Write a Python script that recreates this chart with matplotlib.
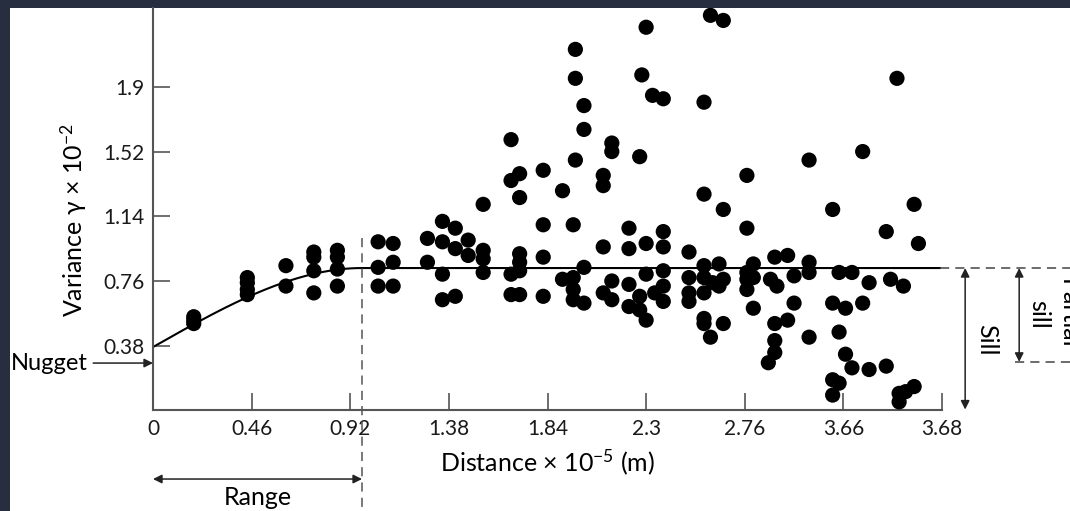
import numpy as np
import matplotlib
matplotlib.use("Agg")
import matplotlib.pyplot as plt
from matplotlib.patches import Rectangle

plt.rcParams["font.family"] = ["Lato", "DejaVu Sans"]
plt.rcParams["mathtext.fontset"] = "custom"
plt.rcParams["mathtext.rm"] = "Lato"
plt.rcParams["mathtext.it"] = "Lato:italic"
plt.rcParams["mathtext.bf"] = "Lato:bold"

distance = [
    0.19, 0.19, 0.19, 0.44, 0.44, 0.44, 0.44, 0.62, 0.62, 0.75,
    0.75, 0.75, 0.75, 0.86, 0.86, 0.86, 0.86, 1.05, 1.05, 1.05,
    1.12, 1.12, 1.12, 1.28, 1.28, 1.35, 1.35, 1.35, 1.35, 1.41,
    1.41, 1.41, 1.47, 1.47, 1.54, 1.54, 1.54, 1.54, 1.67, 1.67,
    1.67, 1.67, 1.71, 1.71, 1.71, 1.71, 1.71, 1.71, 1.82, 1.82,
    1.82, 1.82, 1.91, 1.91, 1.97, 1.97, 1.97, 1.96, 1.96, 1.96,
    1.96, 2.01, 2.01, 2.01, 2.01, 2.10, 2.10, 2.10, 2.10, 2.14,
    2.14, 2.14, 2.14, 2.22, 2.22, 2.22, 2.22, 2.27, 2.27, 2.27,
    2.28, 2.30, 2.33, 2.38, 2.30, 2.30, 2.30, 2.34, 2.38, 2.38,
    2.38, 2.38, 2.38, 2.60, 2.66, 2.57, 2.57, 2.66, 2.77, 2.77,
    3.06, 3.17, 3.31, 3.47, 3.55, 3.42, 3.57, 2.50, 2.57, 2.64,
    2.80, 2.90, 2.96, 3.06, 2.50, 2.50, 2.50, 2.57, 2.57, 2.61,
    2.66, 2.64, 2.77, 2.77, 2.77, 2.80, 2.88, 2.91, 2.99, 3.06,
    3.20, 3.26, 3.34, 3.44, 3.50, 2.80, 2.99, 3.17, 3.23, 3.31,
    2.57, 2.57, 2.60, 2.66, 2.90, 2.96, 3.06, 3.20, 2.90, 2.90,
    2.87, 3.23, 3.26, 3.34, 3.42, 3.17, 3.20, 3.17, 3.48, 3.48,
    3.51, 3.55,
]
variance = [
    0.55, 0.53, 0.51, 0.78, 0.75, 0.71, 0.68, 0.85, 0.73, 0.93,
    0.90, 0.82, 0.69, 0.94, 0.90, 0.83, 0.73, 0.99, 0.84, 0.73,
    0.98, 0.87, 0.73, 1.01, 0.87, 1.11, 0.99, 0.80, 0.65, 1.07,
    0.95, 0.67, 1.00, 0.91, 1.21, 0.94, 0.89, 0.81, 1.59, 1.35,
    0.80, 0.68, 1.39, 1.25, 0.92, 0.87, 0.82, 0.68, 1.41, 1.09,
    0.90, 0.67, 1.29, 0.77, 2.12, 1.95, 1.47, 1.09, 0.78, 0.71,
    0.65, 1.79, 1.65, 0.84, 0.63, 1.38, 1.32, 0.96, 0.69, 1.57,
    1.52, 0.76, 0.65, 1.07, 0.95, 0.74, 0.61, 1.49, 0.67, 0.59,
    1.97, 2.25, 1.85, 1.83, 0.98, 0.80, 0.53, 0.69, 1.05, 0.96,
    0.82, 0.73, 0.64, 2.32, 2.29, 1.81, 1.27, 1.18, 1.38, 1.07,
    1.47, 1.18, 1.52, 1.95, 1.21, 1.05, 0.98, 0.93, 0.85, 0.86,
    0.86, 0.90, 0.91, 0.87, 0.78, 0.69, 0.64, 0.78, 0.69, 0.75,
    0.77, 0.73, 0.81, 0.77, 0.71, 0.78, 0.77, 0.73, 0.79, 0.81,
    0.81, 0.81, 0.75, 0.77, 0.73, 0.60, 0.63, 0.63, 0.60, 0.63,
    0.54, 0.51, 0.43, 0.51, 0.51, 0.53, 0.43, 0.46, 0.41, 0.34,
    0.28, 0.33, 0.25, 0.24, 0.26, 0.18, 0.16, 0.09, 0.10, 0.05,
    0.11, 0.14,
]

# tick labels as printed on the original figure
x_ticks = [0, 0.46, 0.92, 1.38, 1.84, 2.3, 2.76, 3.22, 3.68]
x_tick_labels = ["0", "0.46", "0.92", "1.38", "1.84", "2.3", "2.76", "3.66", "3.68"]
y_ticks = [0.38, 0.76, 1.14, 1.52, 1.9]
y_tick_labels = ["0.38", "0.76", "1.14", "1.52", "1.9"]

# fitted spherical model
model_start = 0.372
sill = 0.836
model_range = 0.975
nugget_level = 0.285

W, H = 1070, 511
fig = plt.figure(figsize=(W / 100, H / 100), dpi=100)
fig.patch.set_facecolor("#262e40")
# white page on the dark slide background
fig.add_artist(Rectangle((10 / W, 0), 1 - 10 / W, 503 / H, transform=fig.transFigure,
                         facecolor="white", edgecolor="none", zorder=0))

ax = fig.add_axes([153 / W, (H - 410.4) / H, (942 - 153) / W, (410.4 - 8) / H])
ax.patch.set_visible(False)
ax.set_xlim(0, 3.68)
ax.set_ylim(0, 2.363)

for side in ["top", "right"]:
    ax.spines[side].set_visible(False)
for side in ["left", "bottom"]:
    ax.spines[side].set_color("#555555")
    ax.spines[side].set_linewidth(1.5)

ax.set_xticks(x_ticks)
ax.set_xticklabels(x_tick_labels)
ax.set_yticks(y_ticks)
ax.set_yticklabels(y_tick_labels)
ax.tick_params(direction="in", length=12, width=1.2, color="#555555",
               labelsize=15, labelcolor="#1a1a1a", pad=6)

# points
ax.scatter(distance, variance, s=120, c="black", edgecolors="none", zorder=3)

# model curve
h = np.linspace(0, 3.67, 400)
r = np.clip(h / model_range, 0, 1)
gamma = model_start + (sill - model_start) * (1.5 * r - 0.5 * r ** 3)
ax.plot(h, gamma, color="black", lw=1.5, zorder=2)

dash = (0, (6, 4))
ax.plot([3.67, 4.3], [sill, sill], color="#444444", lw=1.1, ls=dash, clip_on=False)
ax.plot([4.02, 4.3], [nugget_level, nugget_level], color="#444444", lw=1.1, ls=dash, clip_on=False)
ax.plot([model_range, model_range], [1.01, -0.62], color="#555555", lw=1.1, ls=dash, clip_on=False)

arrow = dict(arrowstyle="<|-|>", color="#222222", lw=1.1, mutation_scale=13, shrinkA=0, shrinkB=0)
one_arrow = dict(arrowstyle="-|>", color="#222222", lw=1.1, mutation_scale=13, shrinkA=2, shrinkB=0)

# sill and partial sill
ax.annotate("", xy=(3.788, sill), xytext=(3.788, 0.005), arrowprops=arrow, annotation_clip=False)
ax.annotate("", xy=(4.04, sill), xytext=(4.04, nugget_level), arrowprops=arrow, annotation_clip=False)
ax.text(3.89, 0.413, "Sill", rotation=-90, ha="center", va="center", fontsize=18)
ax.text(4.13, 0.566, "sill", rotation=-90, ha="center", va="center", fontsize=18)
ax.text(4.27, 0.566, "Partial", rotation=-90, ha="center", va="center", fontsize=18)

# range
ax.annotate("", xy=(0, -0.403), xytext=(model_range, -0.403), arrowprops=arrow, annotation_clip=False)
ax.text(model_range / 2, -0.556, "Range", ha="center", va="baseline", fontsize=18)

# nugget
ax.annotate("Nugget", xy=(0, nugget_level - 0.007), xytext=(-0.305, nugget_level - 0.007),
            ha="right", va="center", fontsize=17, arrowprops=one_arrow, annotation_clip=False)

ax.set_xlabel("Distance × 10$^{-5}$ (m)", fontsize=18)
ax.xaxis.set_label_coords(0.5, -(447 - 410.4) / 402.4)
ax.set_ylabel("Variance γ × 10$^{-2}$", fontsize=18)
ax.yaxis.set_label_coords((89 - 153) / 789, (410.4 - 220) / 402.4)

fig.savefig("out.png", dpi=100, facecolor=fig.get_facecolor())
